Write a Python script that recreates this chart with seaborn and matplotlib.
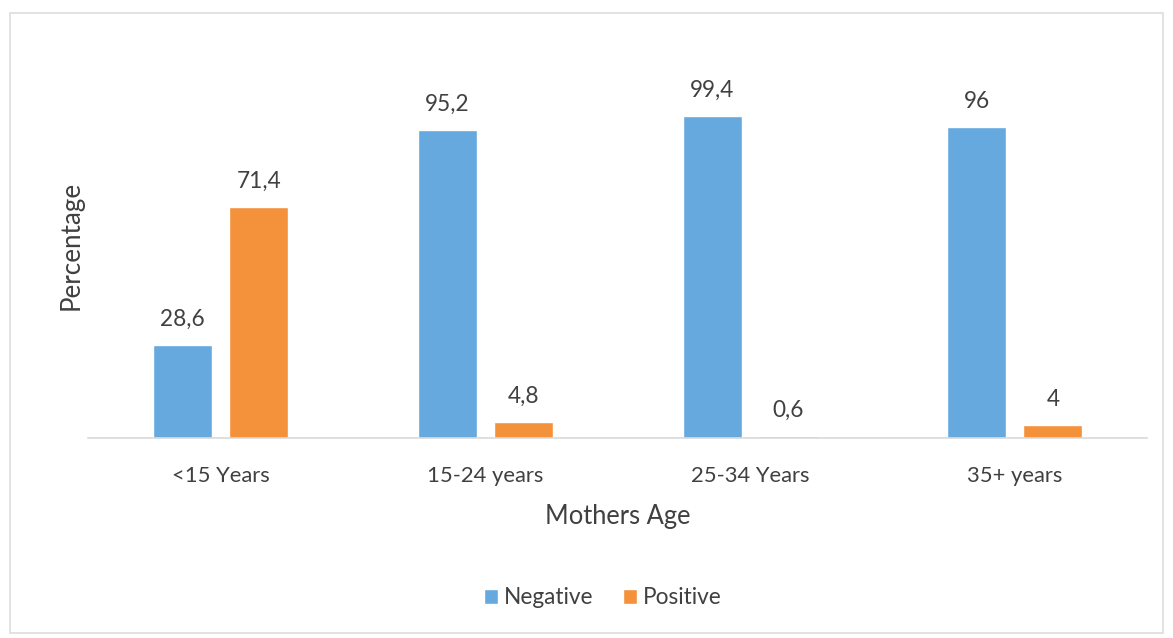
import matplotlib
matplotlib.use("Agg")
import matplotlib.pyplot as plt
import seaborn as sns
import pandas as pd
from matplotlib.patches import Rectangle

categories = ["<15 Years", "15-24 years", "25-34 Years", "35+ years"]
negative = [28.6, 95.2, 99.4, 96]
positive = [71.4, 4.8, 0.6, 4]
negative_labels = ["28,6", "95,2", "99,4", "96"]
positive_labels = ["71,4", "4,8", "0,6", "4"]
series = ["Negative", "Positive"]

df = pd.DataFrame({
    "Age": categories * 2,
    "Value": negative + positive,
    "Series": ["Negative"] * 4 + ["Positive"] * 4,
    "Label": negative_labels + positive_labels,
})

sns.set_theme(style="white")
plt.rcParams['font.family'] = ['Lato', 'DejaVu Sans']
text_color = "#404040"

fig = plt.figure(figsize=(11.73, 6.38), dpi=100)
ax = fig.add_axes([0.0754, 0.3135, 0.9026, 0.558])

palette = {"Negative": "#66A9DF", "Positive": "#F4913B"}
sns.barplot(data=df, x="Age", y="Value", hue="Series", hue_order=series,
            order=categories, palette=palette, width=0.575, gap=0.224,
            ax=ax, saturation=1, legend=True)

ax.set_ylim(0, 110)
ax.set_xlim(-0.5, 3.5)
for s in ["top", "right", "left"]:
    ax.spines[s].set_visible(False)
ax.spines["bottom"].set_color("#D9D9D9")
ax.spines["bottom"].set_linewidth(1.2)
ax.set_yticks([])
ax.tick_params(axis="x", length=0, labelsize=15.8, colors=text_color, pad=20)

for container, labs in zip(ax.containers, [negative_labels, positive_labels]):
    ax.bar_label(container, labels=labs, padding=11, fontsize=16.3, color=text_color)

ax.set_xlabel("Mothers Age", fontsize=18.4, color=text_color, labelpad=13)
ax.set_ylabel("Percentage", fontsize=18.7, color=text_color)
ax.yaxis.set_label_coords(-0.005, 0.542)

ax.legend(loc="center", bbox_to_anchor=(0.514, 0.0627), bbox_transform=fig.transFigure,
          ncol=2, frameon=False, fontsize=16.3, handlelength=0.6, handleheight=0.6,
          columnspacing=1.3, handletextpad=0.28, labelcolor=text_color)

fig.patches.append(Rectangle((10 / 1173, 1 - 633 / 638), 1153 / 1173, 620 / 638,
                             transform=fig.transFigure, fill=False,
                             edgecolor="#DDDDDD", linewidth=1.2))

fig.savefig("out.png", dpi=100, facecolor="white")
